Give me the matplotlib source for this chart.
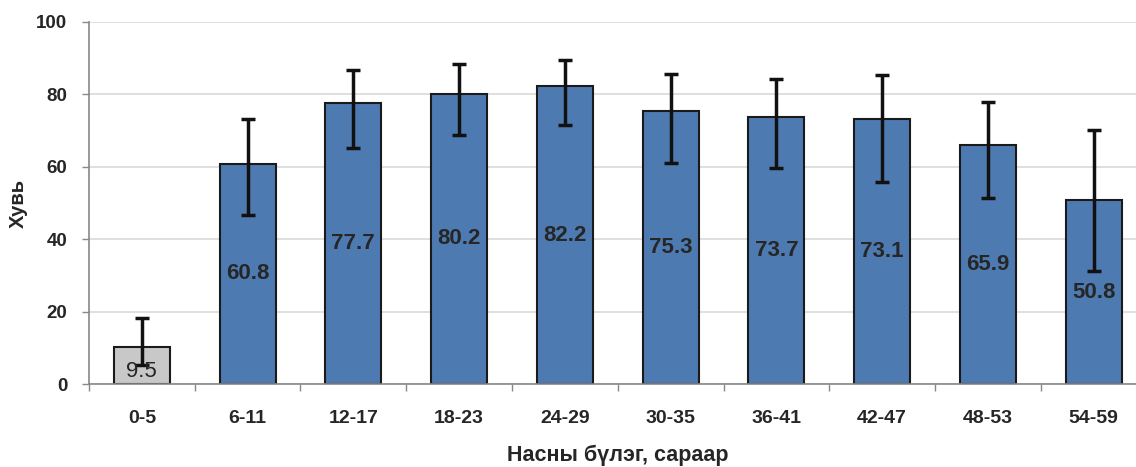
import matplotlib
matplotlib.use("Agg")
import matplotlib.pyplot as plt
import numpy as np

plt.rcParams['font.family'] = ['Liberation Sans', 'DejaVu Sans']

categories = ["0-5", "6-11", "12-17", "18-23", "24-29", "30-35", "36-41", "42-47", "48-53", "54-59"]
bar_heights = [10.3, 60.8, 77.7, 80.2, 82.2, 75.3, 73.7, 73.1, 65.9, 50.8]
bar_labels = ["9.5", "60.8", "77.7", "80.2", "82.2", "75.3", "73.7", "73.1", "65.9", "50.8"]
err_upper = [18.2, 73.3, 86.7, 88.3, 89.4, 85.6, 84.2, 85.4, 77.9, 70.1]
err_lower = [5.2, 46.8, 65.1, 68.7, 71.6, 61.0, 59.8, 55.8, 51.5, 31.1]

colors = ["#C8C8C8"] + ["#4E7AB2"] * 9

fig = plt.figure(figsize=(11.36, 4.67), dpi=100)
ax = fig.add_axes([0.0783, 0.1777, 0.9217, 0.7752])

x = np.arange(len(categories))
ax.bar(x, bar_heights, width=0.53, color=colors, edgecolor="#1a1a1a", linewidth=1.5, zorder=2)
h = np.array(bar_heights)
yerr = np.vstack([h - np.array(err_lower), np.array(err_upper) - h])
ax.errorbar(x, h, yerr=yerr, fmt="none", ecolor="#111111", elinewidth=2.5,
            capsize=5, capthick=2.5, zorder=3)

for i, (xi, hi, lab) in enumerate(zip(x, bar_heights, bar_labels)):
    if i == 0:
        ax.text(xi, 3.4, lab, ha="center", va="center", fontsize=16, color="#262626", zorder=4)
    else:
        ax.text(xi, hi / 2, lab, ha="center", va="center", fontsize=16,
                fontweight="bold", color="#262626", zorder=4)

ax.set_ylim(0, 100)
ax.set_xlim(-0.5, 9.4)
ax.set_yticks([0, 20, 40, 60, 80, 100])
ax.set_yticklabels(["0", "20", "40", "60", "80", "100"], fontsize=13.5, fontweight="bold", color="#262626")
ax.set_xticks(x)
ax.set_xticklabels(categories, fontsize=14, fontweight="bold", color="#262626")
ax.set_xticks(np.arange(-0.5, 9.5, 1.0), minor=True)
ax.tick_params(axis="x", which="major", length=0, pad=19)
ax.tick_params(axis="x", which="minor", length=5, color="#888888", width=1)
ax.tick_params(axis="y", length=5, color="#888888", width=1, pad=10.5)

ax.grid(axis="y", color="#D9D9D9", linewidth=1.2, zorder=0)
ax.set_axisbelow(True)
for s in ["top", "right"]:
    ax.spines[s].set_visible(False)
for s in ["left", "bottom"]:
    ax.spines[s].set_color("#888888")
    ax.spines[s].set_linewidth(1.2)

ax.set_ylabel("Хувь", fontsize=14.5, fontweight="bold", color="#262626", labelpad=6)
ax.set_xlabel("Насны бүлэг, сараар", fontsize=15.5, fontweight="bold", color="#262626")
ax.xaxis.label.set_va("center")
ax.xaxis.set_label_coords(0.5054, -0.196)

fig.savefig("out.png", dpi=100)
